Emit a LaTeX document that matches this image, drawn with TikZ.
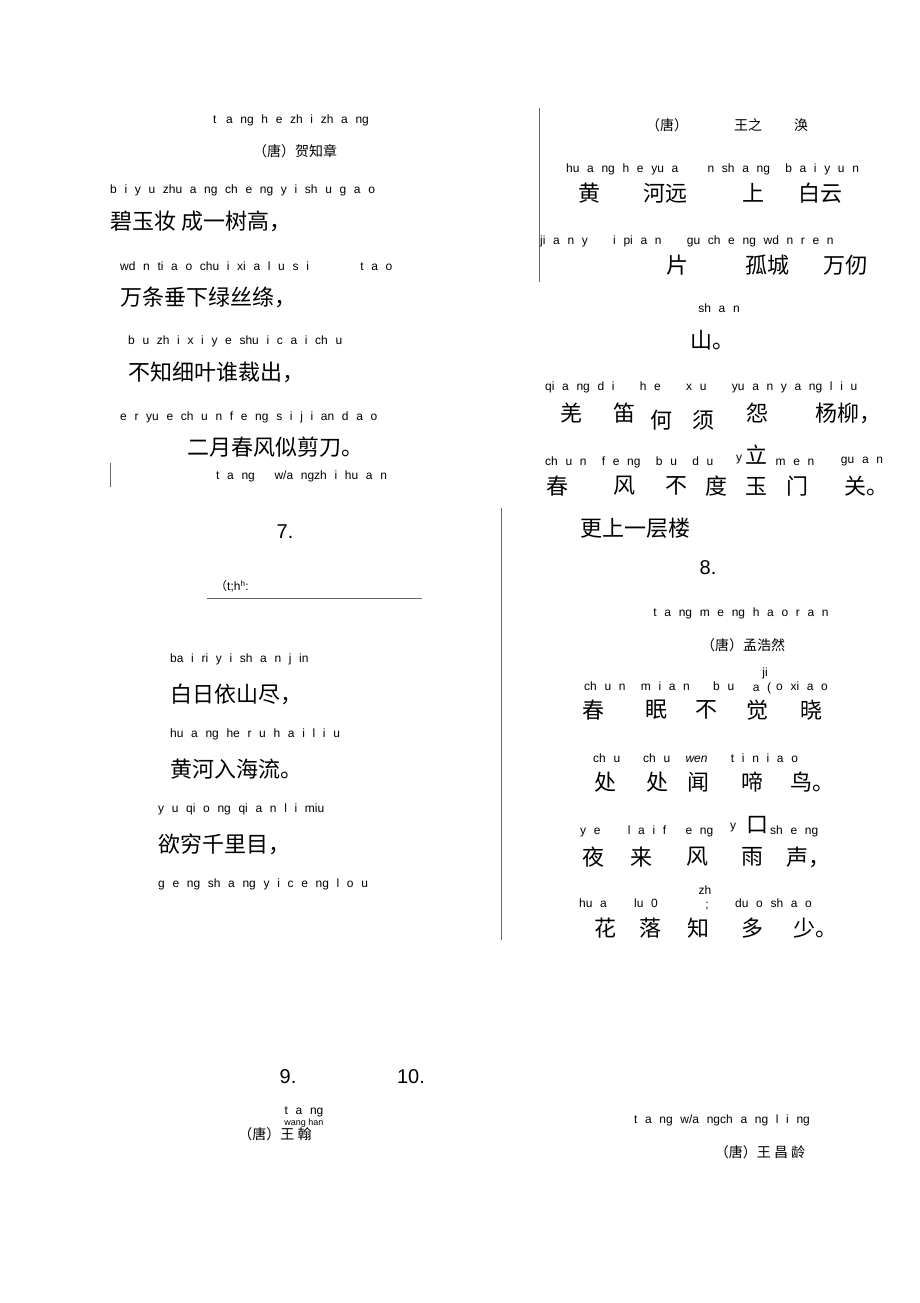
\documentclass[tikz,border=0pt]{standalone}
\usepackage{fontspec}
\setmainfont{Liberation Sans}
\newfontfamily\pyfont[WordSpace=2.3]{Liberation Sans}
\newfontfamily\cjk{Noto Sans CJK SC}
\begin{document}
\begin{tikzpicture}[x=1pt,y=-1pt,
 py/.style={font=\pyfont\fontsize{12}{12}\selectfont, inner sep=0pt},
 hz/.style={font=\cjk\fontsize{22}{24}\selectfont, inner sep=0pt},
 hs/.style={font=\cjk\fontsize{14}{15}\selectfont, inner sep=0pt},
 num/.style={font=\fontsize{20}{21}\selectfont, inner sep=0pt},
 rule/.style={draw=black!60, line width=0.6pt}]
\useasboundingbox[fill=white] (0,0) rectangle (920,1303);
% left column
\node[py] (a1) at (291,120) {t \,a ng h e zh i zh a ng};
\node[hs] (a2) at (295,151) {（唐）贺知章};
\node[py,anchor=west] (a3) at (110,190) {b i y u zhu a ng ch e ng y i sh u g a o};
\node[hz,anchor=west] (a4) at (110,221) {碧玉妆 成一树高，};
\node[py,anchor=west] (a5) at (120,266) {wd n ti a o chu i xi a l u s i \hspace{36pt} t a o};
\node[hz,anchor=west] (a6) at (120,297) {万条垂下绿丝绦，};
\node[py,anchor=west] (a7) at (128,341) {b u zh i x i y e shu i c a i ch u};
\node[hz,anchor=west] (a8) at (128,372) {不知细叶谁裁出，};
\node[py,anchor=west] (a9) at (120,417) {e r yu e ch u n f e ng s i j i an d a o};
\node[hz,anchor=west] (a10) at (187,447) {二月春风似剪刀。};
\node[py,anchor=west] (a11) at (216,476) {t a ng \quad w/a ngzh i hu a n};
\coordinate (l1a) at (110,463); \coordinate (l1b) at (110,487);
\draw[rule] (l1a) -- (l1b);
\node[num] (n7) at (285,532) {7.};
\node[py,anchor=west] (a12) at (215,586) {{\cjk （}t;h\textsuperscript{h}:};
\coordinate (l2a) at (207,598); \coordinate (l2b) at (422,598);
\draw[rule] (l2a) -- (l2b);
\node[py,anchor=west] (b1) at (170,659) {ba i ri y i sh a n j in};
\node[hz,anchor=west] (b2) at (170,694) {白日依山尽，};
\node[py,anchor=west] (b3) at (170,734) {hu a ng he r u h a i l i u};
\node[hz,anchor=west] (b4) at (170,769) {黄河入海流。};
\node[py,anchor=west] (b5) at (158,809) {y u qi o ng qi a n l i miu};
\node[hz,anchor=west] (b6) at (158,844) {欲穷千里目，};
\node[py,anchor=west] (b7) at (158,884) {g e ng sh a ng y i c e ng l o u};
% right column
\coordinate (l3a) at (539,108); \coordinate (l3b) at (539,282);
\draw[rule] (l3a) -- (l3b);
\node[hs] (c1) at (667,125) {（唐）};
\node[hs] (c2) at (748,125) {王之};
\node[hs] (c3) at (801,125) {涣};
\node[py,anchor=west] (c4) at (566,169) {hu a ng h e yu a \hspace{14pt} n sh a ng \ b a i y u n};
\node[hz] (c5) at (589,193) {黄}; \node[hz] (c6) at (665,193) {河远};
\node[hz] (c7) at (753,193) {上}; \node[hz] (c8) at (820,193) {白云};
\node[py,anchor=west] (c9) at (540,241) {ji a n y \hspace{10pt} i pi a n \hspace{10pt} gu ch e ng wd n r e n};
\node[hz] (c10) at (677,265) {片}; \node[hz] (c11) at (767,265) {孤城}; \node[hz] (c12) at (845,265) {万仞};
\node[py] (c13) at (719,308) {sh a n};
\node[hz] (c14) at (712,340) {山。};
\node[py,anchor=west] (c15) at (545,387) {qi a ng d i \hspace{10pt} h e \hspace{10pt} x u \hspace{10pt} yu a n y a ng l i u};
\node[hz] (d1) at (571,413) {羌}; \node[hz] (d2) at (624,413) {笛};
\node[hz] (d3) at (661,420) {何}; \node[hz] (d4) at (703,420) {须};
\node[hz] (d5) at (757,413) {怨}; \node[hz] (d6) at (848,413) {杨柳，};
\node[py,anchor=west] (d7) at (545,462) {ch u n \ f e ng \ b u \ d u};
\node[py] (d8) at (739,460) {y};
\node[hz] (d9) at (756,455) {立};
\node[py] (d10) at (795,462) {m e n};
\node[py] (d11) at (862,462) {gu a n};
\node[hz] (e1) at (557,486) {春}; \node[hz] (e2) at (624,486) {风};
\node[hz] (e3) at (676,486) {不}; \node[hz] (e4) at (716,486) {度};
\node[hz] (e5) at (756,486) {玉}; \node[hz] (e6) at (797,486) {门};
\node[hz] (e7) at (866,486) {关。};
\coordinate (l4a) at (501,508); \coordinate (l4b) at (501,940);
\draw[rule] (l4a) -- (l4b);
\node[hz,anchor=west] (e8) at (580,528) {更上一层楼};
\node[num] (n8) at (708,568) {8.};
\node[py] (f1) at (741,613) {t a ng m e ng h a o r a n};
\node[hs] (f2) at (743,645) {（唐）孟浩然};
\node[py] (f3) at (765,673) {ji};
\node[py] (f4) at (762,688) {a (};
\node[py,anchor=west] (f5) at (584,686) {ch u n \ m i a n \hspace{8pt} b u};
\node[py,anchor=west] (f6) at (776,686) {o xi a o};
\node[hz] (g1) at (593,710) {春}; \node[hz] (g2) at (656,710) {眠};
\node[hz] (g3) at (706,710) {不}; \node[hz] (g4) at (757,710) {觉}; \node[hz] (g5) at (811,710) {晓};
\node[py,anchor=west] (g6) at (593,758) {ch u \ \ ch u \ \textit{wen} \hspace{8pt} t i n i a o};
\node[hz] (h1) at (605,782) {处}; \node[hz] (h2) at (657,782) {处};
\node[hz] (h3) at (698,782) {闻}; \node[hz] (h4) at (752,782) {啼}; \node[hz] (h5) at (812,782) {鸟。};
\node[py,anchor=west] (h6) at (580,831) {y e \hspace{12pt} l a i f \hspace{4pt} e ng};
\node[py] (h7) at (733,828) {y};
\node[hz] (h8) at (757,825) {口};
\node[py,anchor=west] (h9) at (770,831) {sh e ng};
\node[hz] (i1) at (593,857) {夜}; \node[hz] (i2) at (641,857) {来};
\node[hz] (i3) at (697,857) {风}; \node[hz] (i4) at (752,857) {雨}; \node[hz] (i5) at (808,857) {声，};
\node[py] (j1) at (705,890) {zh};
\node[py] (j2) at (707,906) {;};
\node[py,anchor=west] (j3) at (579,903) {hu a \hspace{12pt} lu 0};
\node[py,anchor=west] (j4) at (735,903) {du o sh a o};
\node[hz] (k1) at (605,928) {花}; \node[hz] (k2) at (650,928) {落};
\node[hz] (k3) at (698,928) {知}; \node[hz] (k4) at (752,928) {多}; \node[hz] (k5) at (815,928) {少。};
% bottom
\node[num] (n9) at (288,1077) {9.};
\node[num] (n10) at (411,1077) {10.};
\node[py] (m1) at (304,1112) {t a ng};
\node[py,font=\fontsize{9}{9}\selectfont] (m2) at (304,1123) {wang han};
\node[hs] (m3) at (275,1134) {（唐）王 翰};
\node[py] (m4) at (722,1120) {t a ng w/a ngch a ng l i ng};
\node[hs] (m5) at (760,1152) {（唐）王 昌 龄};
\end{tikzpicture}
\end{document}
